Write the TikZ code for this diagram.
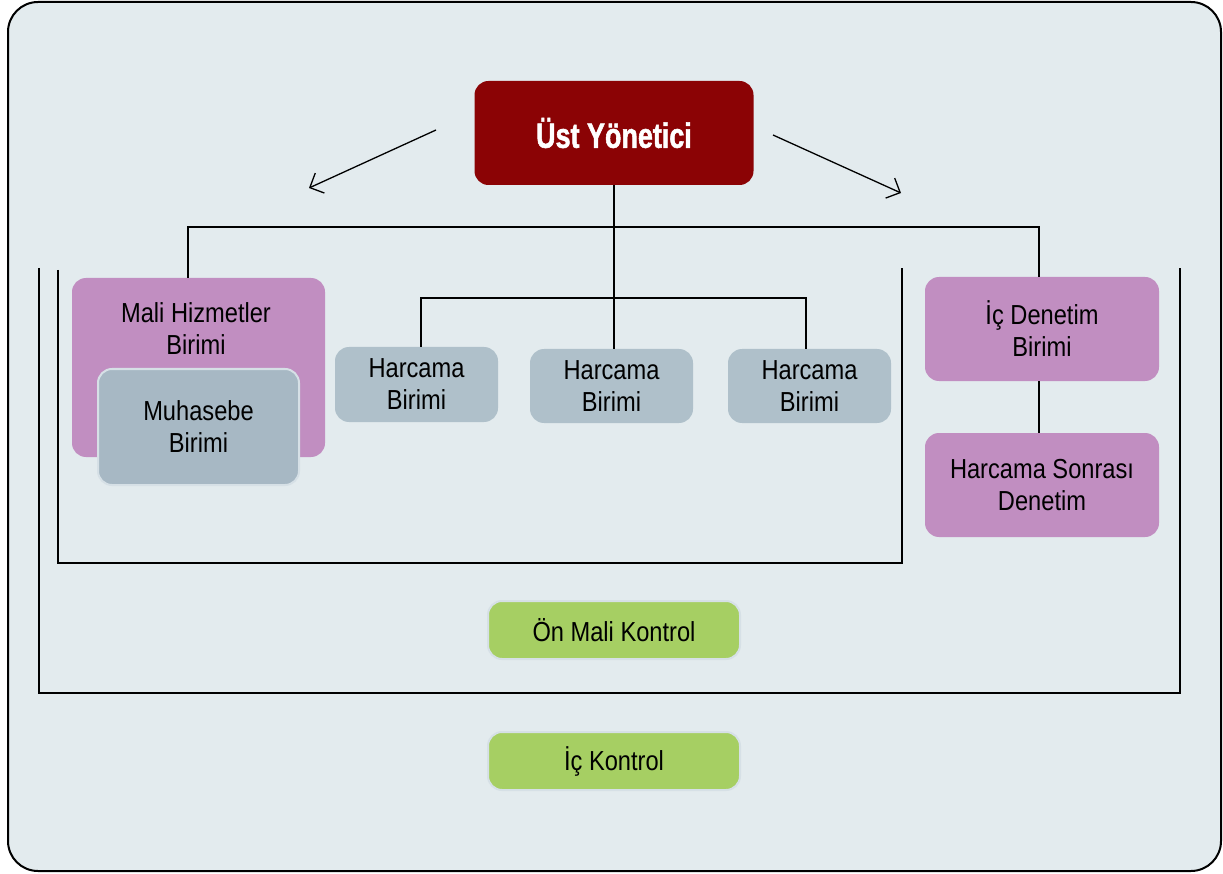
\documentclass[tikz,border=0pt]{standalone}
\usepackage{fontspec}
\setmainfont{Liberation Sans}[FakeStretch=0.86]
\newfontfamily\titlefont{Liberation Sans Bold}[FakeStretch=0.77, FakeBold=1.5]
\usetikzlibrary{arrows.meta}
\definecolor{bgc}{HTML}{E3EBEE}
\definecolor{redc}{HTML}{8B0305}
\definecolor{purc}{HTML}{C18EC1}
\definecolor{grayc}{HTML}{AFC0CA}
\definecolor{muhc}{HTML}{A7B8C4}
\definecolor{greenc}{HTML}{A6CF63}
\definecolor{edgec}{HTML}{D6E0E6}
\tikzset{
  box/.style={rectangle, rounded corners=14pt, inner sep=0pt, align=center,
    font=\fontsize{27.5}{32}\selectfont, text=black},
  purbox/.style={box, fill=purc},
  graybox/.style={box, fill=grayc},
  greenbox/.style={box, fill=greenc, draw=edgec, line width=2pt},
  conn/.style={line width=1.5pt, black},
  brack/.style={line width=2pt, black},
  arr/.style={line width=1.3pt, -{Straight Barb[length=11pt,width=22pt,line width=1.3pt]}},
}
\begin{document}
\begin{tikzpicture}[x=1pt,y=-1pt]
\useasboundingbox (0,0) rectangle (1223,874);
\draw[line width=2pt, fill=bgc, rounded corners=30pt] (8,2) rectangle (1221,871);

% brackets
\coordinate (ia) at (58,270); \coordinate (ib) at (58,563);
\coordinate (ic) at (902,563); \coordinate (id) at (902,268);
\draw[brack] (ia) -- (ib) -- (ic) -- (id);
\coordinate (oa) at (39,268); \coordinate (ob) at (39,693);
\coordinate (oc) at (1180,693); \coordinate (od) at (1180,268);
\draw[brack] (oa) -- (ob) -- (oc) -- (od);

% nodes
\node[box, fill=redc, minimum width=279pt, minimum height=104pt,
  font=\titlefont\fontsize{35}{38}\selectfont, text=white] (ust) at (614,133) {Üst Yönetici};
\node[purbox, minimum width=253pt, minimum height=179pt] (mali) at (198.5,367.5) {};
\node[box, align=center] (malit) at (196,329) {Mali Hizmetler\\Birimi};
\node[box, fill=muhc, draw=edgec, line width=2pt, minimum width=201pt, minimum height=116pt] (muh) at (198.5,427) {Muhasebe\\Birimi};
\node[graybox, minimum width=163pt, minimum height=75pt] (h1) at (416.5,384.5) {Harcama\\Birimi};
\node[graybox, minimum width=163pt, minimum height=74pt] (h2) at (611.5,386) {Harcama\\Birimi};
\node[graybox, minimum width=163pt, minimum height=74pt] (h3) at (809.5,386) {Harcama\\Birimi};
\node[purbox, minimum width=234pt, minimum height=104pt] (icd) at (1042,329) {İç Denetim\\Birimi};
\node[purbox, minimum width=234pt, minimum height=104pt] (hsd) at (1042,485) {Harcama Sonrası\\Denetim};
\node[greenbox, minimum width=252pt, minimum height=58pt] (onm) at (614,630) {Ön Mali Kontrol};
\node[greenbox, minimum width=252pt, minimum height=58pt] (ick) at (614,761) {İç Kontrol};

% connectors
\coordinate (j1) at (614,227);
\coordinate (j2) at (614,298);
\draw[conn] (ust.south) -- (j1);
\draw[conn] (mali.north -| 188,0) |- (j1) -| (icd.north -| 1039,0);
\draw[conn] (j1) -- (h2.north -| 614,0);
\draw[conn] (h1.north -| 421,0) |- (j2) -| (h3.north -| 806,0);
\draw[conn] (icd.south -| 1039,0) -- (hsd.north -| 1039,0);

% arrows
\coordinate (la) at (436,130); \coordinate (lb) at (309,188);
\coordinate (ra) at (773,135); \coordinate (rb) at (901,193);
\draw[arr] (la) -- (lb);
\draw[arr] (ra) -- (rb);
\end{tikzpicture}
\end{document}
